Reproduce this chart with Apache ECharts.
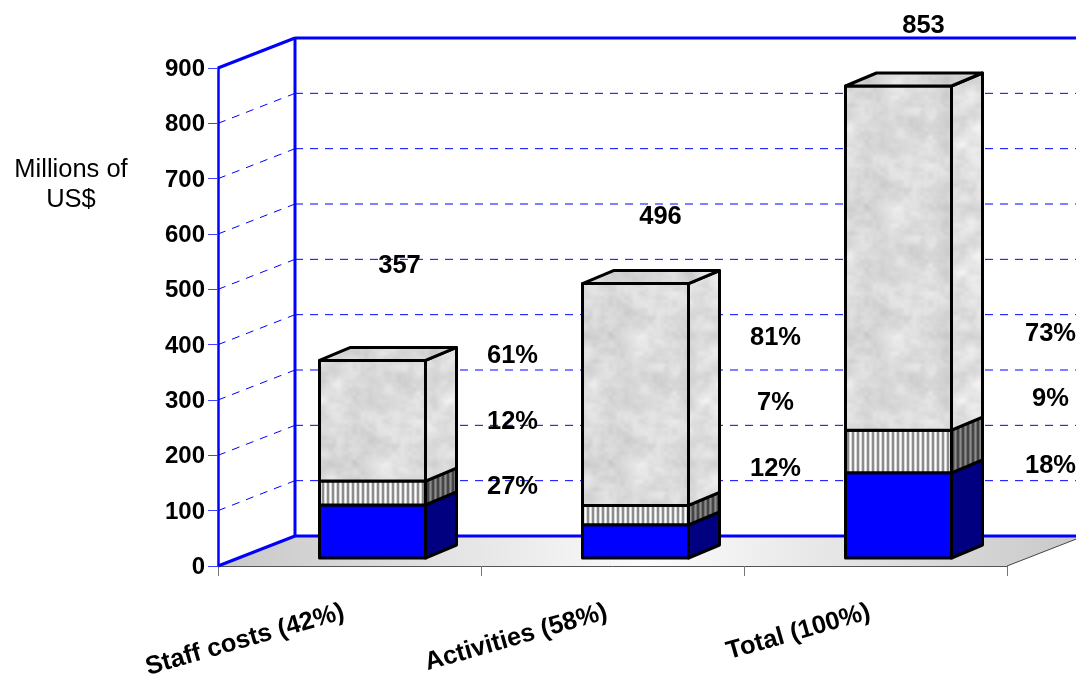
<!DOCTYPE html>
<html><head><meta charset="utf-8">
<style>html,body{margin:0;padding:0;background:#fff}#c{width:1076px;height:680px}</style>
<script src="https://cdn.jsdelivr.net/npm/echarts@6/dist/echarts.min.js"></script>
</head><body><div id="c"></div>
<script>
const categories = ['Staff costs (42%)', 'Activities (58%)', 'Total (100%)'];
const yTicks = [0, 100, 200, 300, 400, 500, 600, 700, 800, 900];
const lowerSegment = [96, 60, 154];
const middleSegment = [43, 35, 77];
const upperSegment = [218, 401, 622];
const totals = [357, 496, 853];
const upperPct = ['61%', '81%', '73%'];
const middlePct = ['12%', '7%', '9%'];
const lowerPct = ['27%', '12%', '18%'];

// label anchors, in axis values, and their horizontal offset from the category centre
const totalAnchor = [544, 633, 978];
const upperAnchor = [381, 414, 421];
const middleAnchor = [262, 296, 303];
const lowerAnchor = [144, 177, 182];
const totalDx = [50, 48, 48];
const pctDx = [163, 163, 175];

const WALL_DX = 77, WALL_DY = -30;
const BAR_DX = 23, BAR_DY = 8, BAR_W = 106, SIDE_DX = 31, SIDE_DY = -13;
const FONT = '"Liberation Sans", Arial, sans-serif';

function makeCanvas(w, h, draw) { const c = document.createElement('canvas'); c.width = w; c.height = h; draw(c.getContext('2d'), w, h); return c; }
function stripes(cols) {
  return { image: makeCanvas(cols.length, 4, (g, w, h) => { cols.forEach((c, i) => { g.fillStyle = c; g.fillRect(i, 0, 1, h); }); }), repeat: 'repeat' };
}
// smooth, deterministic marble-like texture (a fill pattern, not data)
function hash(x, y) { const s = Math.sin((x % 16) * 127.1 + (y % 16) * 311.7) * 43758.5453; return s - Math.floor(s); }
function smooth(x, y, cell) {
  const fx = x / cell, fy = y / cell, ix = Math.floor(fx), iy = Math.floor(fy);
  const u = fx - ix, v = fy - iy, su = u*u*(3-2*u), sv = v*v*(3-2*v);
  const n = 128 / cell;
  const h = (a, b) => hash((a + n) % n + 3, (b + n) % n + 5);
  return (h(ix,iy)*(1-su) + h(ix+1,iy)*su)*(1-sv) + (h(ix,iy+1)*(1-su) + h(ix+1,iy+1)*su)*sv;
}
function mottled(base) {
  return { image: makeCanvas(128, 128, (g, w, h) => {
    const d = g.createImageData(w, h);
    for (let y = 0; y < h; y++) for (let x = 0; x < w; x++) {
      const n = smooth(x, y, 16) * 0.5 + smooth(x + 5, y + 9, 8) * 0.3 + smooth(x + 2, y + 3, 4) * 0.2 - 0.5;
      const v = base + n * 44;
      const i = (y*w + x) * 4; d.data[i] = d.data[i+1] = d.data[i+2] = v; d.data[i+3] = 255;
    }
    g.putImageData(d, 0, 0);
  }), repeat: 'repeat' };
}
const palette = {
  lower: { front: '#0000ff', side: '#000080', top: '#0000cc' },
  middle: { front: stripes(['#ffffff', '#d8d8d8', '#8c8c8c', '#8c8c8c', '#d8d8d8']), side: stripes(['#8c8c8c', '#707070', '#444444', '#444444', '#707070']), top: '#ccc' },
  upper: { front: mottled(218), side: mottled(224), top: mottled(214) }
};

function cum(list, prev) { return list.map((v, i) => [i, prev ? prev[i][2] : 0, (prev ? prev[i][2] : 0) + v]); }
const lowerData = cum(lowerSegment);
const middleData = cum(middleSegment, lowerData);
const upperData = cum(upperSegment, middleData);

function barSeries(name, data, colors, withTop) {
  return {
    type: 'custom', name, data, z: 5, clip: false, silent: true,
    encode: { x: 0, y: [1, 2] },
    renderItem(params, api) {
      const i = api.value(0);
      const cx = api.coord([i, 0])[0] + BAR_DX;
      const y0 = api.coord([i, api.value(1)])[1] - BAR_DY;
      const y1 = api.coord([i, api.value(2)])[1] - BAR_DY;
      const l = cx - BAR_W / 2, r = cx + BAR_W / 2;
      const st = { stroke: '#000', lineWidth: 3, lineJoin: 'round' };
      const kids = [
        { type: 'polygon', shape: { points: [[r,y0],[r+SIDE_DX,y0+SIDE_DY],[r+SIDE_DX,y1+SIDE_DY],[r,y1]] }, style: { ...st, fill: colors.side } },
        { type: 'polygon', shape: { points: [[l,y0],[r,y0],[r,y1],[l,y1]] }, style: { ...st, fill: colors.front } }
      ];
      if (withTop) kids.push({ type: 'polygon', shape: { points: [[l,y1],[r,y1],[r+SIDE_DX,y1+SIDE_DY],[l+SIDE_DX,y1+SIDE_DY]] }, style: { ...st, fill: colors.top } });
      return { type: 'group', children: kids };
    }
  };
}
function textSeries(name, texts, anchors, dxs) {
  return {
    type: 'custom', name, z: 8, clip: false, silent: true,
    data: texts.map((t, i) => [i, anchors[i]]),
    encode: { x: 0, y: 1 },
    renderItem(params, api) {
      const i = api.value(0);
      const p = api.coord([i, api.value(1)]);
      return { type: 'text', x: p[0] + dxs[i], y: p[1] + 1, style: { text: String(texts[i]), fill: '#000', font: 'bold 25.5px ' + FONT, align: 'center', verticalAlign: 'middle' } };
    }
  };
}

const wallSeries = {
  type: 'custom', name: 'walls', z: 1, clip: false, silent: true, data: [[0, 0]],
  encode: { x: 0, y: 1 },
  renderItem(params, api) {
    const cs = params.coordSys;
    const L = cs.x, R = cs.x + cs.width, B = cs.y + cs.height;
    return { type: 'polygon', shape: { points: [[L,B],[L+WALL_DX,B+WALL_DY],[R+WALL_DX,B+WALL_DY],[R,B]] },
      style: { fill: { type: 'linear', x: 0, y: 0, x2: 1, y2: 0, colorStops: [{offset:0,color:'#c8c8c8'},{offset:0.5,color:'#fbfbfb'},{offset:1,color:'#c8c8c8'}] }, stroke: null } };
  }
};
const gridSeries = {
  type: 'custom', name: 'gridlines', z: 2, clip: false, silent: true,
  data: yTicks.map(v => [0, v]), encode: { x: 0, y: 1 },
  renderItem(params, api) {
    const cs = params.coordSys;
    const v = api.value(1);
    const y = api.coord([0, v])[1];
    const L = cs.x, R = cs.x + cs.width;
    const edge = v === yTicks[0] || v === yTicks[yTicks.length - 1];
    const back = { stroke: '#0000ff', lineWidth: edge ? 3 : 1, lineDash: edge ? null : [8, 7] };
    const side = { stroke: '#0000ff', lineWidth: edge ? 3 : 1, lineDash: edge ? null : [8, 7] };
    return { type: 'group', children: [
      { type: 'line', shape: { x1: L + WALL_DX, y1: y + WALL_DY, x2: R + WALL_DX, y2: y + WALL_DY }, style: back },
      { type: 'line', shape: { x1: L, y1: y, x2: L + WALL_DX, y2: y + WALL_DY }, style: side }
    ] };
  }
};
const backPostSeries = {
  type: 'custom', name: 'back post', z: 3, clip: false, silent: true, data: [[0, yTicks[0], yTicks[yTicks.length - 1]]],
  encode: { x: 0, y: [1, 2] },
  renderItem(params, api) {
    const x = params.coordSys.x + WALL_DX;
    return { type: 'line', shape: { x1: x, y1: api.coord([0, api.value(1)])[1] + WALL_DY, x2: x, y2: api.coord([0, api.value(2)])[1] + WALL_DY - 1 }, style: { stroke: '#0000ff', lineWidth: 3 } };
  }
};
const floorEdgeSeries = {
  type: 'custom', name: 'floor edge', z: 3, clip: false, silent: true, data: [[0, 0]],
  encode: { x: 0, y: 1 },
  renderItem(params, api) {
    const cs = params.coordSys, R = cs.x + cs.width, B = cs.y + cs.height;
    return { type: 'line', shape: { x1: R, y1: B, x2: R + WALL_DX, y2: B + WALL_DY }, style: { stroke: '#444', lineWidth: 1 } };
  }
};

const chart = echarts.init(document.getElementById('c'), null, { renderer: 'canvas' });
chart.setOption({
  animation: false,
  backgroundColor: '#fff',
  title: { text: 'Millions of\nUS$', left: 66, top: 150, textAlign: 'center',
    textStyle: { fontFamily: FONT, fontWeight: 'normal', fontSize: 25.5, lineHeight: 30, color: '#000' } },
  grid: { left: 218, right: 69, top: 68, bottom: 114, containLabel: false, outerBoundsMode: 'none' },
  xAxis: {
    type: 'category', data: categories, boundaryGap: true,
    axisLine: { show: true, lineStyle: { color: '#555', width: 1 } },
    axisTick: { show: true, alignWithLabel: false, length: 10, lineStyle: { color: '#777', width: 1 } },
    axisLabel: { rotate: 16, margin: 44, interval: 0, padding: [0, 6, 0, 0], fontFamily: FONT, fontWeight: 'bold', fontSize: 25.5, color: '#000' },
    splitLine: { show: false }
  },
  yAxis: {
    type: 'value', min: 0, max: 900, interval: 100,
    axisLine: { show: true, onZero: false, lineStyle: { color: '#0000ff', width: 2.5 } },
    axisTick: { show: true, length: 10, lineStyle: { color: '#3f3fff', width: 1 } },
    axisLabel: { margin: 13, formatter: '{n|{value}}', rich: { n: { padding: [3, 0, 0, 0], fontFamily: FONT, fontWeight: 'bold', fontSize: 24, color: '#000' } } },
    splitLine: { show: false }
  },
  series: [
    wallSeries, gridSeries, backPostSeries, floorEdgeSeries,
    barSeries('lower', lowerData, palette.lower, false),
    barSeries('middle', middleData, palette.middle, false),
    barSeries('upper', upperData, palette.upper, true),
    textSeries('totals', totals, totalAnchor, totalDx),
    textSeries('upper pct', upperPct, upperAnchor, pctDx),
    textSeries('middle pct', middlePct, middleAnchor, pctDx),
    textSeries('lower pct', lowerPct, lowerAnchor, pctDx)
  ]
});
</script></body></html>
